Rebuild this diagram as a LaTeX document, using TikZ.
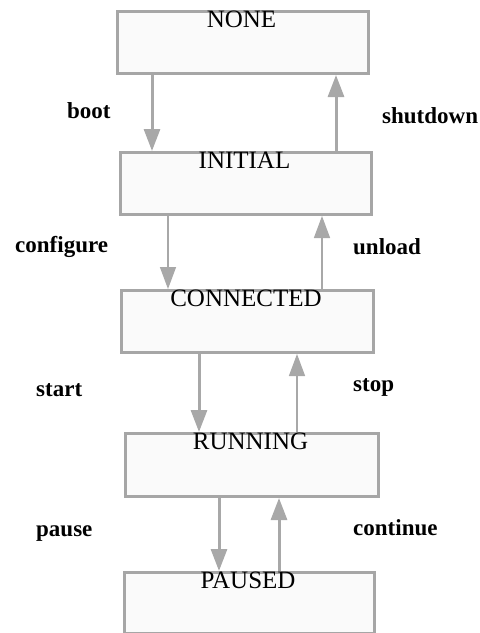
\documentclass[tikz,border=0pt]{standalone}
\usepackage{fontspec}
\setmainfont{Liberation Serif}
\usetikzlibrary{arrows.meta}
\definecolor{boxline}{HTML}{A6A6A6}
\definecolor{boxfill}{HTML}{FAFAFA}
\definecolor{arrcol}{HTML}{A8A8A8}
\tikzset{
  statebox/.style={draw=boxline, fill=boxfill, line width=3pt, rectangle, inner sep=0pt, anchor=north west},
  statetext/.style={anchor=base, inner sep=0pt, font=\fontsize{25}{25}\selectfont, text=black},
  edgelabel/.style={anchor=base west, inner sep=0pt, font=\fontsize{23}{23}\selectfont\bfseries, text=black},
  thick arr/.style={draw=arrcol, line width=3pt, -{Triangle[length=22pt,width=16pt]}},
  thin arr/.style={draw=arrcol, line width=1.5pt, -{Triangle[length=22pt,width=16pt]}}
}
\begin{document}
\begin{tikzpicture}[x=1pt,y=-1pt]
\useasboundingbox (0,0) rectangle (480,633);
% boxes
\node[statebox, minimum width=251pt, minimum height=62pt] (none) at (116,10) {};
\node[statebox, minimum width=251pt, minimum height=62pt] (initial) at (119,151) {};
\node[statebox, minimum width=252pt, minimum height=62pt] (connected) at (120,289) {};
\node[statebox, minimum width=253pt, minimum height=63pt] (running) at (124,432) {};
\node[statebox, minimum width=250pt, minimum height=61pt] (paused) at (123,571) {};
% box texts
\node[statetext] (noneT) at (241.5,27) {NONE};
\node[statetext] (initialT) at (244.5,168) {INITIAL};
\node[statetext] (connectedT) at (246,306) {CONNECTED};
\node[statetext] (runningT) at (250.5,449) {RUNNING};
\node[statetext] (pausedT) at (248,588) {PAUSED};
% connectors
\draw[thick arr] (none.south -| 152,0) -- (initial.north -| 152,0);
\draw[thick arr] (initial.north -| 336,0) -- (none.south -| 336,0);
\draw[thin arr] (initial.south -| 168,0) -- (connected.north -| 168,0);
\draw[thin arr] (connected.north -| 322,0) -- (initial.south -| 322,0);
\draw[thick arr] (connected.south -| 199,0) -- (running.north -| 199,0);
\draw[thin arr] (running.north -| 297,0) -- (connected.south -| 297,0);
\draw[thick arr] (running.south -| 219,0) -- (paused.north -| 219,0);
\draw[thick arr] (paused.north -| 279,0) -- (running.south -| 279,0);
% labels
\node[edgelabel] (lboot) at (67,118) {boot};
\node[edgelabel] (lshutdown) at (382,123) {shutdown};
\node[edgelabel] (lconfigure) at (15,252) {configure};
\node[edgelabel] (lunload) at (353,254) {unload};
\node[edgelabel] (lstart) at (36,396) {start};
\node[edgelabel] (lstop) at (353,391) {stop};
\node[edgelabel] (lpause) at (36,536) {pause};
\node[edgelabel] (lcontinue) at (353,535) {continue};
\end{tikzpicture}
\end{document}
